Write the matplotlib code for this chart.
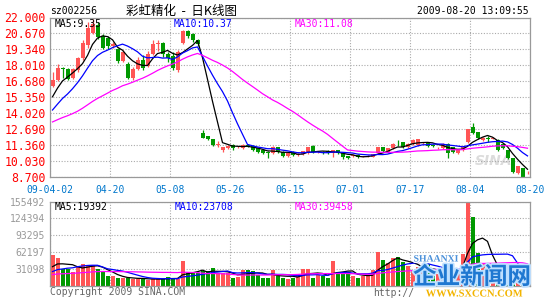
import numpy as np
import matplotlib
matplotlib.use('Agg')
import matplotlib.pyplot as plt
import matplotlib.patheffects as pe

# x axis labels (every 12 trading days)
date_labels = ['09-04-02', '04-20', '05-08', '05-26', '06-15', '07-01', '07-17', '08-04', '08-20']
price_ticks = [8.700, 10.030, 11.360, 12.690, 14.020, 15.350, 16.680, 18.010, 19.340, 20.670, 22.000]
vol_ticks = [31098, 62197, 93295, 124394, 155492]

# daily candles, 2009-04-02 .. 2009-08-20
open_ = [16.26, 16.80, 17.80, 17.70, 16.95, 17.60, 18.60, 19.70, 20.75, 21.34,
         20.50, 20.30, 19.60, 19.40, 18.40, 18.10, 17.00, 17.70, 18.50, 18.00,
         19.00, 19.80, 19.90, 19.00, 18.80, 17.60, 19.90, 20.90, 20.60, 20.10,
         12.40, 12.10, 11.86, 11.40, 11.00, 11.10, 11.35, 11.20, 11.10, 11.40,
         11.30, 11.10, 10.95, 10.80, 10.70, 11.20, 10.80, 10.45, 10.80, 10.55,
         10.60, 10.70, 11.30, 10.80, 10.80, 10.85, 10.70, 10.95, 10.70, 10.45,
         10.50, 10.55, 10.40, 10.45, 10.40, 10.70, 11.20, 10.78, 11.10, 11.50,
         11.60, 11.20, 11.45, 11.36, 11.55, 11.60, 11.35, 11.10, 11.10, 11.50,
         11.20, 10.70, 10.94, 11.60, 12.86, 12.45, 11.78, 11.95, 11.90, 11.80,
         11.50, 10.94, 10.28, 9.03, 9.45, 9.10]
close = [16.80, 17.80, 17.70, 16.90, 17.70, 18.60, 19.90, 21.10, 21.50, 20.34,
         19.50, 19.60, 19.80, 18.40, 19.10, 17.00, 17.70, 18.50, 17.80, 19.00,
         19.80, 19.90, 19.00, 18.60, 17.80, 19.10, 20.90, 20.50, 20.10, 19.80,
         12.00, 11.86, 11.36, 11.50, 11.20, 11.30, 11.15, 11.25, 11.40, 11.30,
         10.95, 10.80, 10.70, 10.75, 11.20, 10.80, 10.45, 10.70, 10.55, 10.60,
         10.85, 11.20, 10.80, 10.82, 10.75, 10.75, 10.95, 10.70, 10.40, 10.28,
         10.55, 10.35, 10.45, 10.50, 10.60, 11.20, 10.85, 11.10, 11.50, 11.45,
         11.20, 11.50, 11.80, 11.86, 11.60, 11.28, 11.30, 11.15, 11.50, 10.70,
         10.80, 11.00, 11.20, 12.70, 12.36, 11.94, 12.00, 11.90, 12.00, 10.95,
         11.10, 10.28, 9.10, 9.60, 8.75, 9.12]
high = [17.43, 18.10, 17.90, 17.80, 17.80, 18.75, 20.10, 21.60, 21.90, 21.60,
        20.60, 20.50, 20.00, 19.50, 19.30, 18.30, 17.90, 18.70, 18.90, 19.20,
        20.10, 20.10, 20.00, 19.10, 19.10, 19.30, 21.00, 21.00, 20.70, 20.20,
        12.60, 12.15, 11.90, 11.70, 11.25, 11.35, 11.45, 11.30, 11.45, 11.50,
        11.40, 11.15, 11.00, 10.85, 11.30, 11.25, 10.90, 10.75, 10.85, 10.70,
        10.90, 11.25, 11.35, 10.90, 10.85, 10.95, 11.00, 11.00, 10.75, 10.50,
        10.60, 10.60, 10.50, 10.55, 10.65, 11.25, 11.25, 11.15, 11.55, 11.80,
        11.65, 11.55, 11.85, 11.90, 11.65, 11.65, 11.45, 11.20, 11.55, 11.55,
        11.25, 11.05, 11.25, 12.75, 13.20, 12.50, 12.05, 12.10, 12.05, 11.85,
        11.55, 10.98, 10.30, 9.65, 9.50, 9.20]
low = [16.18, 16.70, 17.00, 16.80, 16.85, 17.45, 18.50, 19.50, 20.60, 20.25,
       19.40, 19.40, 19.50, 18.20, 18.30, 16.90, 16.80, 17.60, 17.60, 17.90,
       18.90, 19.20, 18.70, 18.30, 17.60, 17.50, 19.80, 20.30, 20.00, 19.60,
       11.95, 11.80, 11.30, 11.20, 10.80, 11.05, 11.00, 11.10, 11.05, 11.20,
       10.90, 10.75, 10.60, 10.30, 10.65, 10.75, 10.40, 10.40, 10.50, 10.50,
       10.55, 10.65, 10.75, 10.70, 10.65, 10.60, 10.36, 10.65, 10.20, 10.20,
       10.40, 10.30, 10.35, 10.40, 10.35, 10.65, 10.80, 10.75, 11.05, 11.30,
       11.15, 11.15, 11.40, 11.30, 11.50, 11.25, 11.25, 11.05, 11.05, 10.28,
       10.75, 10.65, 10.90, 11.55, 12.30, 11.90, 11.75, 11.60, 11.85, 10.90,
       11.05, 10.25, 9.05, 9.00, 8.72, 8.95]
volume = [57000, 52000, 31000, 31000, 27000, 38000, 41000, 39000, 39000, 31000,
          26000, 18000, 18000, 15000, 15000, 15000, 14000, 14000, 14000, 12000,
          13000, 13000, 14000, 17000, 14000, 14000, 46000, 24000, 26000, 24000,
          28000, 28000, 33000, 24000, 24000, 24000, 16000, 17000, 29000, 29000,
          28000, 20000, 16000, 16000, 29000, 18000, 16000, 13000, 16000, 22000,
          32000, 32000, 16000, 20000, 18000, 16000, 46000, 26000, 25000, 26000,
          18000, 16000, 18000, 20000, 29000, 63000, 49000, 43000, 51000, 54000,
          45000, 38000, 30000, 35000, 30000, 40000, 25000, 22000, 25000, 35000,
          28000, 24000, 60000, 154000, 127000, 61000, 40000, 30000, 28000, 35000,
          30000, 25000, 30000, 20000, 15000, 10000]

# closes / volumes before 04-02, as implied by where the MA lines start
prior_close = [12.2, 12.4, 12.3, 12.5, 12.6, 12.4, 12.7, 12.9, 12.8, 13.0,
               12.9, 13.1, 13.0, 12.8, 12.9, 13.1, 13.2, 13.0, 13.1, 13.3,
               12.9, 13.0, 13.2, 13.3, 13.6, 14.2, 14.7, 15.3, 16.0]
prior_volume = [17000, 21000, 19000, 16000, 18000, 22000, 20000, 17000, 15000, 19000,
                21000, 18000, 16000, 20000, 19000, 17000, 22000, 18000, 20000, 19000,
                16000, 19000, 17000, 20000, 18000, 27000, 30000, 35000, 31000]

RED = '#FF5555'
GREEN = '#009900'
MA_COLORS = {5: '#000000', 10: '#0000FF', 30: '#FF00FF'}
MONO = 'DejaVu Sans Mono'


def moving_avg(prior, values, n):
    full = np.concatenate([prior, values])
    k = len(prior)
    return np.array([full[i - n + 1:i + 1].mean() for i in range(k, len(full))])


def px(x, y):
    return x / 545, 1 - y / 300


def style_axes(ax):
    for s in ax.spines.values():
        s.set_color('#999999')
        s.set_linewidth(0.9)
    ax.grid(True, color='#aaaaaa', linestyle=(0, (1, 1.5)), linewidth=0.8)
    ax.set_axisbelow(True)
    ax.tick_params(length=0)
    ax.set_xlim(-0.5, 95.5)
    ax.set_xticks([-0.5 + 12 * k for k in range(9)])


fig = plt.figure(figsize=(5.45, 3.0), dpi=100)
fig.patch.set_facecolor('white')

x = np.arange(len(close))
o = np.array(open_)
c = np.array(close)
up = c >= o
colors = [RED if u else GREEN for u in up]

# price panel
ax1 = fig.add_axes([50 / 545, 1 - 177.3 / 300, 480 / 545, 159.8 / 300])
style_axes(ax1)
ax1.set_ylim(8.7, 22.0)
ax1.set_yticks(price_ticks)
ax1.set_yticklabels(['%.3f' % t for t in price_ticks], color='#FF0000',
                    fontsize=8.3, family=MONO)
ax1.set_xticklabels(date_labels, color='#0077CC', fontsize=7, family=MONO)
ax1.tick_params(axis='x', pad=5.5)
ax1.tick_params(axis='y', pad=3)
# faint sina logo behind the candles
ax1.text(0.925, 0.1, 'SINA', transform=ax1.transAxes, color='#dcdcdc', fontsize=10,
         style='italic', weight='bold', ha='center', va='center', zorder=0.5)
ax1.vlines(x, low, high, colors=colors, linewidth=0.9)
body = np.maximum(np.abs(c - o), 0.04)
ax1.bar(x, body, bottom=np.minimum(o, c), width=0.8, color=colors, linewidth=0)
for n in (5, 10, 30):
    ax1.plot(x, moving_avg(prior_close, close, n), color=MA_COLORS[n], linewidth=0.9)

# volume panel
ax2 = fig.add_axes([50 / 545, 1 - 286.3 / 300, 480 / 545, 84.8 / 300])
style_axes(ax2)
ax2.set_ylim(0, 155492)
ax2.set_yticks(vol_ticks)
ax2.set_yticklabels([str(t) for t in vol_ticks], color='#999999',
                    fontsize=7, family=MONO)
ax2.set_xticklabels([])
ax2.bar(x, volume, width=0.8, color=colors, linewidth=0)
for n in (5, 10, 30):
    ax2.plot(x, moving_avg(prior_volume, volume, n), color=MA_COLORS[n], linewidth=0.9)

fig.text(*px(55, 24), 'MA5:9.35', color='#000000', fontsize=7, family=MONO, va='center')
fig.text(*px(174, 24), 'MA10:10.37', color='#0000FF', fontsize=7, family=MONO, va='center')
fig.text(*px(295, 24), 'MA30:11.08', color='#FF00FF', fontsize=7, family=MONO, va='center')
fig.text(*px(55, 206.5), 'MA5:19392', color='#000000', fontsize=7, family=MONO, va='center')
fig.text(*px(175, 206.5), 'MA10:23708', color='#0000FF', fontsize=7, family=MONO, va='center')
fig.text(*px(295, 206.5), 'MA30:39458', color='#FF00FF', fontsize=7, family=MONO, va='center')

fig.text(*px(50, 11), 'sz002256', color='#000000', fontsize=7, family=MONO, va='center')
fig.text(*px(181, 11), '彩虹精化  -  日K线图', color='#000000', fontsize=9,
         family=['Noto Sans CJK SC', 'DejaVu Sans'], va='center', ha='center')
fig.text(*px(529, 11), '2009-08-20 13:09:55', color='#000000', fontsize=7,
         family=MONO, va='center', ha='right')
fig.text(*px(50, 292), 'Copyright 2009 SINA.COM', color='#666666', fontsize=7,
         family=MONO, va='center')
fig.text(*px(373, 293), 'http://', color='#666666', fontsize=7, family=MONO, va='center')

# site watermark pasted over the bottom right corner
fig.text(*px(436, 259), 'SHAANXI', color='#4a90d9', fontsize=7, weight='bold',
         family='Liberation Serif', va='center', ha='center',
         path_effects=[pe.withStroke(linewidth=2, foreground='white')])
fig.text(*px(472, 277), '企业新闻网', color='#1f78d1', fontsize=17, weight='bold',
         family=['Noto Sans CJK SC', 'DejaVu Sans'], va='center', ha='center',
         path_effects=[pe.withStroke(linewidth=2.5, foreground='#bfe0ff')])
fig.text(*px(474, 294), 'WWW.SXCCN.COM', color='#f2b400', fontsize=7.5, weight='bold',
         family='Liberation Serif', va='center', ha='center',
         path_effects=[pe.withStroke(linewidth=1.5, foreground='white')])

fig.savefig('out.png', dpi=100, facecolor='white')
